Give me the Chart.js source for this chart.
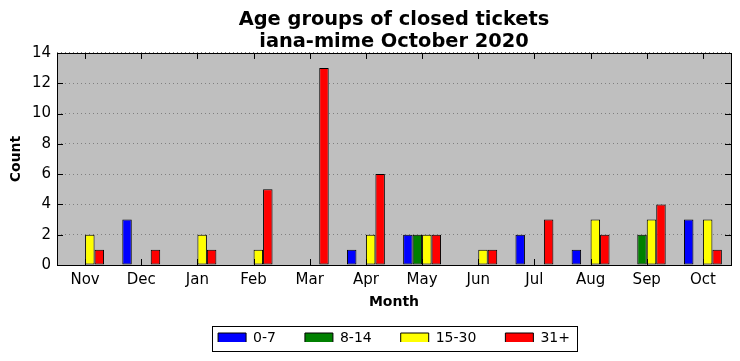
<!DOCTYPE html>
<html><head><meta charset="utf-8">
<script src="https://cdn.jsdelivr.net/npm/chart.js@4/dist/chart.umd.min.js"></script>
<style>html,body{margin:0;padding:0;background:#fff}</style>
</head><body>
<canvas id="c" width="740" height="361" style="width:740px;height:361px;display:block"></canvas>
<script>
const months = ["Nov","Dec","Jan","Feb","Mar","Apr","May","Jun","Jul","Aug","Sep","Oct"];
const age0to7   = [0,3,0,0,0,1,2,0,2,1,0,3];
const age8to14  = [0,0,0,0,0,0,2,0,0,0,2,0];
const age15to30 = [2,0,2,1,0,2,2,1,0,3,3,3];
const age31plus = [1,1,1,5,13,6,2,1,3,2,4,1];
const yTicks = [0,2,4,6,8,10,12,14];
const seriesNames = ["0-7","8-14","15-30","31+"];
const seriesColors = ["#0000ff","#008000","#ffff00","#ff0000"];

Chart.defaults.font.family = "'DejaVu Sans', sans-serif";
Chart.defaults.color = "#000";

const TICK = 6;
const decor = {
  id: 'decor',
  beforeDraw(chart) {
    const {ctx, chartArea: a} = chart;
    ctx.save();
    ctx.fillStyle = '#bfbfbf';
    ctx.fillRect(a.left, a.top, a.right - a.left, a.bottom - a.top);
    ctx.restore();
  },
  afterDraw(chart) {
    const {ctx, chartArea: a} = chart;
    const xs = chart.scales.x, ys = chart.scales.y;
    ctx.save();
    ctx.strokeStyle = '#000';
    ctx.lineWidth = 1;
    ctx.beginPath();
    xs.ticks.forEach((t, i) => {
      const px = Math.round(xs.getPixelForTick(i)) + 0.5;
      ctx.moveTo(px, a.bottom); ctx.lineTo(px, a.bottom - TICK);
      ctx.moveTo(px, a.top); ctx.lineTo(px, a.top + TICK);
    });
    ys.ticks.forEach((t, i) => {
      const py = Math.round(ys.getPixelForTick(i)) + 0.5;
      ctx.moveTo(a.left, py); ctx.lineTo(a.left + TICK, py);
      ctx.moveTo(a.right, py); ctx.lineTo(a.right - TICK, py);
    });
    ctx.stroke();
    ctx.strokeRect(Math.round(a.left) + 0.5, Math.round(a.top) + 0.5, Math.round(a.right - a.left), Math.round(a.bottom - a.top));
    const hb = chart.legend && chart.legend.legendHitBoxes;
    if (hb && hb.length) {
      const x0 = hb[0].left - 6;
      const last = hb[hb.length - 1];
      const x1 = last.left + last.width + 7;
      const cy = hb[0].top + hb[0].height / 2;
      ctx.strokeRect(Math.round(x0) + 0.5, Math.round(cy - 12.5) + 0.5, Math.round(x1 - x0), 25);
    }
    ctx.restore();
  }
};

new Chart(document.getElementById('c'), {
  type: 'bar',
  data: {
    labels: months,
    datasets: [age0to7, age8to14, age15to30, age31plus].map((d, i) => ({
      label: seriesNames[i],
      data: d,
      backgroundColor: seriesColors[i],
      borderColor: '#000',
      borderWidth: 1,
      borderSkipped: false,
      barPercentage: 1.0,
      categoryPercentage: 0.675
    }))
  },
  options: {
    responsive: false,
    animation: false,
    layout: { padding: { left: 0, right: 9, top: 0, bottom: 19 } },
    plugins: {
      tooltip: { enabled: false },
      title: {
        display: true,
        fullSize: false,
        text: ["Age groups of closed tickets", "iana-mime October 2020"],
        font: { size: 19.4, weight: 'bold', lineHeight: 1.12 },
        padding: { top: 9, bottom: 0.5 },
        color: '#000'
      },
      legend: {
        position: 'bottom',
        fullSize: false,
        maxHeight: 40,
        labels: {
          boxWidth: 28, boxHeight: 10, padding: 29,
          font: { size: 14 }, color: '#000'
        }
      }
    },
    scales: {
      x: {
        grid: { display: false, drawTicks: false },
        border: { display: false },
        ticks: { font: { size: 15 }, padding: 6, maxRotation: 0 },
        title: { display: true, text: 'Month', font: { size: 14, weight: 'bold' }, padding: { top: 0, bottom: -9 } },
        afterFit(s) { s.height = 37; }
      },
      y: {
        min: 0, max: 14,
        afterBuildTicks(s) { s.ticks = yTicks.map(v => ({ value: v })); },
        grid: { color: '#808080', drawTicks: false, lineWidth: 1 },
        border: { display: false, dash: [1, 3] },
        ticks: { font: { size: 15 }, padding: 6 },
        title: { display: true, text: 'Count', font: { size: 14, weight: 'bold' }, padding: { top: 8, bottom: 0 } },
        afterFit(s) { s.width = 57; }
      }
    }
  },
  plugins: [decor]
});
</script>
</body></html>
